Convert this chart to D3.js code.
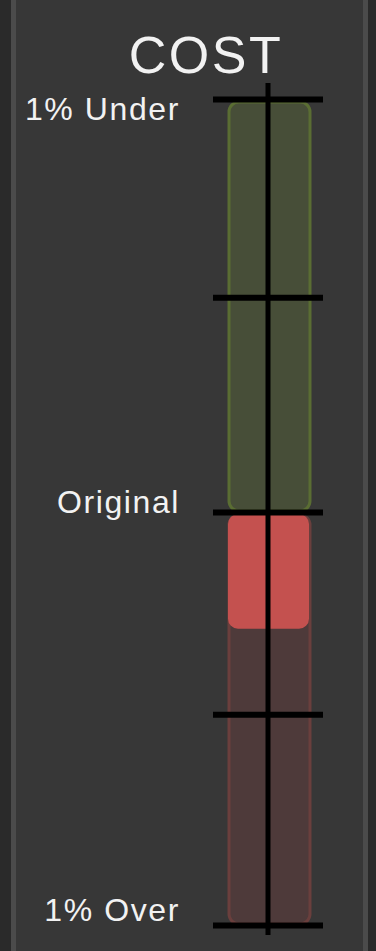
<!DOCTYPE html>
<html>
<head>
<meta charset="utf-8">
<script src="https://cdn.jsdelivr.net/npm/d3@7"></script>
<style>
  html, body { margin: 0; padding: 0; background: #2a2a2a; overflow: hidden; }
  svg { display: block; }
  text { font-family: "Liberation Sans", Arial, sans-serif; fill: #f2f2f2; }
</style>
</head>
<body>
<div id="gauge"></div>
<script>
// chart values
var categories = ["COST"];
var costValue = [0.28];               // % over the original cost
var tickValues = [-1, -0.52, 0, 0.49, 1];
var tickLabels = ["1% Under", "Original", "1% Over"];
var labelValues = [-1, 0, 1];

var svgWidth = 376;
var svgHeight = 951;

var svg = d3.select("#gauge")
  .append("svg")
  .attr("width", svgWidth)
  .attr("height", svgHeight);

// panel behind the gauge
svg.append("rect")
  .attr("x", 13.5)
  .attr("y", -4)
  .attr("width", 352)
  .attr("height", svgHeight + 10)
  .attr("fill", "#373737")
  .attr("stroke", "#4b4b4b")
  .attr("stroke-width", 5);

// scales
var yScale = d3.scaleLinear()
  .domain([-1, 1])
  .range([99, 925]);

var xScale = d3.scaleBand()
  .domain(categories)
  .range([228, 311])
  .padding(0);

var bw = xScale.bandwidth();
var cx = xScale(categories[0]) + bw / 2 - 1.5;

// title
svg.append("text")
  .attr("x", 206)
  .attr("y", 73)
  .attr("text-anchor", "middle")
  .style("font-size", "52px")
  .style("letter-spacing", "2.5px")
  .text(categories[0]);

// background bands: under (green) and over (red)
var bands = [
  { from: -1, to: 0, fill: "#474e38", stroke: "#5a6d33" },
  { from: 0, to: 1, fill: "#4e3a3a", stroke: "#6a3f3d" }
];

svg.selectAll("rect.band")
  .data(bands)
  .enter()
  .append("rect")
  .classed("band", true)
  .attr("x", xScale(categories[0]) + 1)
  .attr("y", d => yScale(d.from) + 3)
  .attr("width", bw - 2)
  .attr("height", d => yScale(d.to) - yScale(d.from) - 4)
  .attr("rx", 10)
  .attr("fill", d => d.fill)
  .attr("stroke", d => d.stroke)
  .attr("stroke-width", 3);

// value bar
svg.selectAll("rect.value")
  .data(costValue)
  .enter()
  .append("rect")
  .classed("value", true)
  .attr("x", xScale(categories[0]))
  .attr("y", d => yScale(Math.min(0, d)) + 2)
  .attr("width", bw - 2)
  .attr("height", d => Math.abs(yScale(d) - yScale(0)) - 1)
  .attr("rx", 10)
  .attr("fill", "#c4514f");

// vertical axis line
svg.append("line")
  .attr("x1", cx)
  .attr("x2", cx)
  .attr("y1", yScale(-1) - 16)
  .attr("y2", yScale(1) + 10)
  .attr("stroke", "#000")
  .attr("stroke-width", 5);

// cross ticks
var tickAxis = d3.axisRight(yScale)
  .tickValues(tickValues)
  .tickSize(110)
  .tickFormat("");

var axisG = svg.append("g")
  .attr("transform", `translate(${cx - 55}, 0)`)
  .call(tickAxis);

axisG.select(".domain").remove();
axisG.selectAll(".tick line")
  .attr("stroke", "#000")
  .attr("stroke-width", 6);

// labels
var labelShift = [21, 1, -4];

svg.selectAll("text.label")
  .data(labelValues)
  .enter()
  .append("text")
  .classed("label", true)
  .attr("x", 180)
  .attr("y", (d, i) => yScale(d) + labelShift[i])
  .attr("text-anchor", "end")
  .style("font-size", "32px")
  .style("letter-spacing", "1.6px")
  .text((d, i) => tickLabels[i]);
</script>
</body>
</html>
